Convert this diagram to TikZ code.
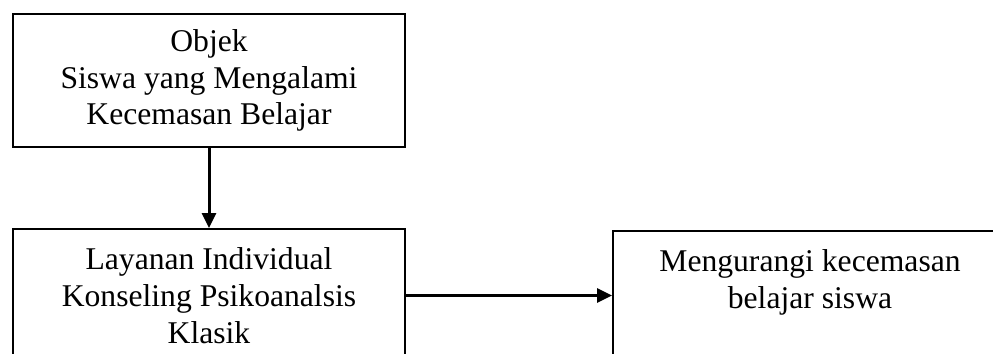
\documentclass[tikz,border=0pt]{standalone}
\usepackage{fontspec}
\setmainfont{Liberation Serif}
\usetikzlibrary{arrows.meta}

\begin{document}
\begin{tikzpicture}[-,line width=0.04cm,>={Triangle[length=0.3cm,width=0.28cm]},color=black,
    kotak/.style={draw,rectangle,minimum width=7.84cm,minimum height=2.66cm,align=center,inner sep=0pt,
      font=\fontsize{18pt}{20.9pt}\selectfont},
    panah/.style={->,line width=0.06cm}]
  \useasboundingbox (0,0) rectangle (19.86,7.06);
  \clip (0,0) rectangle (19.86,7.06);
  \node[kotak] (objek) at (4.18,5.45) {Objek\\Siswa yang Mengalami\\Kecemasan Belajar};
  \node[kotak] (layanan) at (4.18,1.15) {Layanan Individual\\Konseling Psikoanalsis\\Klasik};
  \node[kotak,minimum width=7.88cm] (hasil) at (16.2,1.11) {Mengurangi kecemasan\\belajar siswa\\\mbox{}};
  \draw[panah] (objek) -- (layanan);
  \draw[panah] (layanan.east) -- (layanan.east -| hasil.west);
\end{tikzpicture}
\end{document}
